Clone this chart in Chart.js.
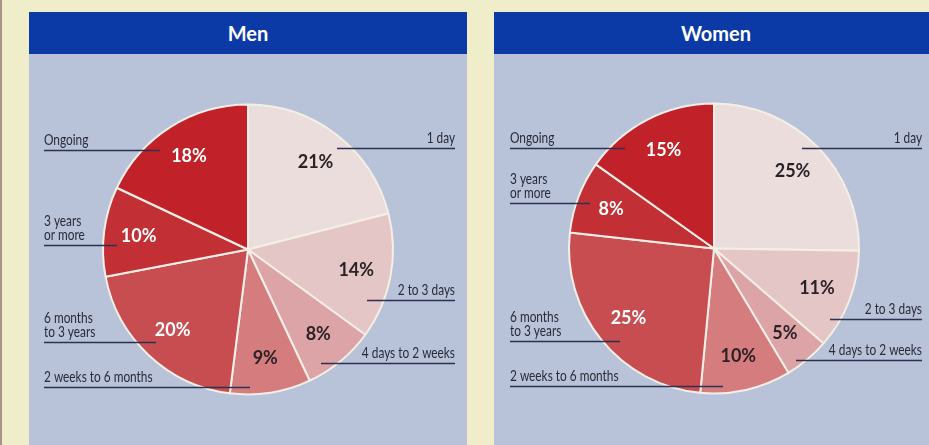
<!DOCTYPE html>
<html>
<head>
<meta charset="utf-8">
<script src="https://cdn.jsdelivr.net/npm/chart.js@4.4.1/dist/chart.umd.min.js"></script>
<style>
  html, body { margin: 0; padding: 0; }
  body { width: 929px; height: 445px; overflow: hidden; position: relative; background: #efedca; }
  .edge { position: absolute; left: 0; top: 0; width: 2px; height: 445px; background: #a8948a; }
  .panel { position: absolute; top: 12px; height: 433px; background: #b8c2d8; }
  .panel .head {
    height: 42px; background: #0b3aa6; color: #fff; text-align: center;
    font: 700 20px Lato, "Open Sans", sans-serif; line-height: 42px;
  }
  .panel canvas { position: absolute; top: 42px; left: 0; }
  #men { left: 29px; width: 438px; }
  #women { left: 494px; width: 450px; }
</style>
</head>
<body>
<div class="edge"></div>
<div class="panel" id="men"><div class="head">Men</div><canvas id="menChart" width="438" height="391"></canvas></div>
<div class="panel" id="women"><div class="head" style="padding-right:6px">Women</div><canvas id="womenChart" width="440" height="391"></canvas></div>
<script>
// duration of absence, clockwise from 12 o'clock
var categories = [
  ['1 day'],
  ['2 to 3 days'],
  ['4 days to 2 weeks'],
  ['2 weeks to 6 months'],
  ['6 months', 'to 3 years'],
  ['3 years', 'or more'],
  ['Ongoing']
];
var menValues = [21, 14, 8, 9, 20, 10, 18];
var womenValues = [25, 11, 5, 10, 25, 8, 15];

var sliceColors = ['#eadddc', '#e5c6c6', '#dca4a6', '#d57c7f', '#c84d51', '#c23035', '#c1222a'];
var darkText = [true, true, true, true, false, false, false];

// leader line layout, offsets from the pie centre: [side, line dy, inner end dx]
var menLeaders = [
  ['right', -102, 89], ['right', 50, 119], ['right', 113, 73],
  ['left', 137, 2], ['left', 92, -92], ['left', -5, -131], ['left', -100, -88]
];
var womenLeaders = [
  ['right', -101, 88], ['right', 70, 116], ['right', 111, 82],
  ['left', 137, 9], ['left', 92, -94], ['left', -46, -124], ['left', -101, -89]
];

var labelPlugin = {
  id: 'pieLabels',
  afterDatasetsDraw: function(chart, args, opts) {
    var ctx = chart.ctx;
    var arcs = chart.getDatasetMeta(0).data;
    var values = chart.data.datasets[0].data;
    ctx.save();

    // percentages inside the slices
    ctx.font = '700 18px Lato, "Open Sans", sans-serif';
    ctx.textAlign = 'center';
    ctx.textBaseline = 'middle';
    arcs.forEach(function(arc, i) {
      var mid = (arc.startAngle + arc.endAngle) / 2;
      var r = arc.outerRadius * 0.76;
      ctx.fillStyle = darkText[i] ? '#2b2226' : '#ffffff';
      ctx.fillText(values[i] + '%', arc.x + Math.cos(mid) * r, arc.y + Math.sin(mid) * r);
    });

    // category names over leader lines
    var cx = arcs[0].x, cy = arcs[0].y;
    ctx.strokeStyle = '#2c3152';
    ctx.lineWidth = 1.5;
    ctx.fillStyle = '#2a2a38';
    ctx.font = '16px Lato, "Open Sans", sans-serif';
    ctx.textBaseline = 'alphabetic';
    opts.leaders.forEach(function(l, i) {
      var y = Math.round(cy + l[1]) + 0.5;
      var outer = l[0] === 'left' ? cx - 204 : cx + opts.rightEdge;
      ctx.beginPath();
      ctx.moveTo(outer, y);
      ctx.lineTo(cx + l[2], y);
      ctx.stroke();
      var lines = chart.data.labels[i];
      lines.forEach(function(txt, k) {
        var ty = y - 6 - (lines.length - 1 - k) * 14;
        ctx.save();
        ctx.translate(outer, ty);
        ctx.scale(0.74, 1);
        ctx.textAlign = l[0] === 'left' ? 'left' : 'right';
        ctx.fillText(txt, 0, 0);
        ctx.restore();
      });
    });
    ctx.restore();
  }
};

function makePie(canvasId, values, leaders, rightEdge, padding) {
  return new Chart(document.getElementById(canvasId), {
    type: 'pie',
    data: {
      labels: categories,
      datasets: [{
        data: values,
        backgroundColor: sliceColors,
        borderColor: '#f4efe6',
        borderWidth: 2
      }]
    },
    options: {
      responsive: false,
      animation: false,
      radius: 145,
      layout: { padding: padding },
      plugins: {
        legend: { display: false },
        tooltip: { enabled: false },
        pieLabels: { leaders: leaders, rightEdge: rightEdge }
      }
    },
    plugins: [labelPlugin]
  });
}

makePie('menChart', menValues, menLeaders, 207, 0);
makePie('womenChart', womenValues, womenLeaders, 208, { bottom: 2 });
</script>
</body>
</html>
